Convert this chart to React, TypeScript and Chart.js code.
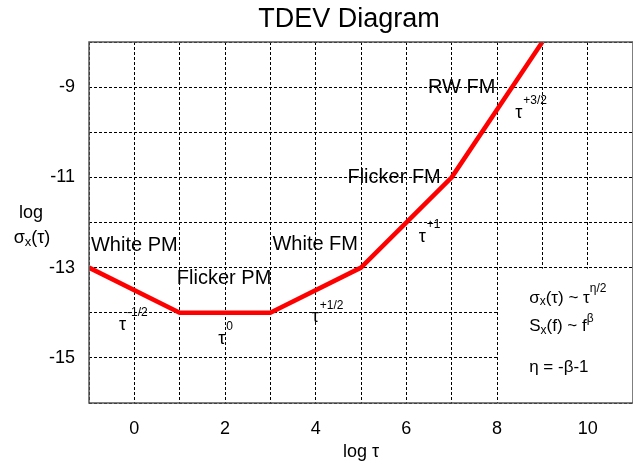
import { useEffect, useRef } from 'react';
import { Chart, registerables } from 'chart.js';

Chart.register(...registerables);

// ---- data ----
const xValues = [-1, 1, 3, 5, 7, 9];
const yValues = [-13, -14, -14, -13, -11, -8];
const xTickLabels = [0, 2, 4, 6, 8, 10];
const yTickLabels = [-9, -11, -13, -15];

const regionLabels = ['White PM', 'Flicker PM', 'White FM', 'Flicker FM', 'RW FM'];
const regionX = [0, 1.98, 3.99, 5.73, 7.22];
const regionY = [-12.5, -13.23, -12.49, -11.0, -9.0];

const slopeExps = ['-1/2', '0', '+1/2', '+1', '+3/2'];
const slopeX = [-0.26, 1.93, 3.99, 6.35, 8.48];
const slopeY = [-14.27, -14.58, -14.1, -12.32, -9.57];

const formulaX = 8.71;
const formulaY = [-13.67, -14.31, -15.2];
// legend box (blank area) extent in data units
const boxX = [8, 11];
const boxY = [-16, -13];

const FONT = '"Liberation Sans", Arial, sans-serif';

type Part = [string, number, number];

function drawRich(ctx: CanvasRenderingContext2D, x: number, y: number, parts: Part[]) {
  let cx = x;
  ctx.textAlign = 'left';
  ctx.textBaseline = 'middle';
  for (const [t, size, dy] of parts) {
    ctx.font = `${size}px ${FONT}`;
    ctx.fillText(t, cx, y + dy);
    cx += ctx.measureText(t).width;
  }
}

const overlayPlugin = {
  id: 'overlay',
  beforeDatasetsDraw(chart: any) {
    const { ctx, scales } = chart;
    const xs = scales.x;
    const ys = scales.y;
    const x0 = xs.getPixelForValue(boxX[0]) + 1;
    const x1 = xs.getPixelForValue(boxX[1]);
    const y0 = ys.getPixelForValue(boxY[1]) + 1;
    const y1 = ys.getPixelForValue(boxY[0]);
    ctx.save();
    ctx.fillStyle = '#fff';
    ctx.fillRect(x0, y0, x1 - x0, y1 - y0);
    ctx.restore();
  },
  afterDraw(chart: any) {
    const { ctx, chartArea, scales } = chart;
    const xs = scales.x;
    const ys = scales.y;
    ctx.save();
    // frame
    ctx.strokeStyle = '#555';
    ctx.lineWidth = 1.5;
    ctx.strokeRect(chartArea.left, chartArea.top, chartArea.right - chartArea.left, chartArea.bottom - chartArea.top);

    ctx.fillStyle = '#000';
    // title
    ctx.font = `27px ${FONT}`;
    ctx.textAlign = 'center';
    ctx.textBaseline = 'middle';
    ctx.fillText('TDEV Diagram', chartArea.left + 260, 20);

    // x title
    ctx.font = `18px ${FONT}`;
    ctx.fillText('log \u03c4', (chartArea.left + chartArea.right) / 2, chartArea.bottom + 49);

    // y title
    ctx.fillText('log', chartArea.left - 58, 213);
    const sw = (() => {
      ctx.font = `18px ${FONT}`;
      const a = ctx.measureText('\u03c3').width + ctx.measureText('(\u03c4)').width;
      ctx.font = `13px ${FONT}`;
      return a + ctx.measureText('x').width;
    })();
    drawRich(ctx, chartArea.left - 57 - sw / 2, 238, [
      ['\u03c3', 18, 0],
      ['x', 13, 4],
      ['(\u03c4)', 18, 0],
    ]);

    // region labels
    ctx.font = `20px ${FONT}`;
    ctx.textAlign = 'center';
    ctx.textBaseline = 'middle';
    regionLabels.forEach((t, i) => {
      ctx.fillText(t, xs.getPixelForValue(regionX[i]), ys.getPixelForValue(regionY[i]));
    });

    // slope labels
    slopeExps.forEach((e, i) => {
      const px = xs.getPixelForValue(slopeX[i]);
      const py = ys.getPixelForValue(slopeY[i]);
      ctx.font = `18px ${FONT}`;
      ctx.textAlign = 'center';
      ctx.textBaseline = 'middle';
      ctx.fillText('\u03c4', px, py);
      ctx.font = `12px ${FONT}`;
      ctx.textAlign = 'left';
      ctx.fillText(e, px + 4.5, py - 12);
    });

    // formula block
    const fx = xs.getPixelForValue(formulaX);
    drawRich(ctx, fx, ys.getPixelForValue(formulaY[0]), [
      ['\u03c3', 17, 0],
      ['x', 12, 4],
      ['(\u03c4) ~ \u03c4', 17, 0],
      ['\u03b7/2', 12, -9],
    ]);
    drawRich(ctx, fx, ys.getPixelForValue(formulaY[1]), [
      ['S', 17, 0],
      ['x', 12, 4],
      ['(f) ~ f', 17, 0],
      ['\u03b2', 12, -8],
    ]);
    drawRich(ctx, fx, ys.getPixelForValue(formulaY[2]), [['\u03b7 = -\u03b2-1', 17, 0]]);
    ctx.restore();
  },
};

export default function App() {
  const ref = useRef<HTMLCanvasElement | null>(null);
  useEffect(() => {
    document.body.style.margin = '0';
    if (!ref.current) return;
    const chart = new Chart(ref.current, {
      type: 'scatter',
      data: {
        datasets: [
          {
            data: xValues.map((x, i) => ({ x, y: yValues[i] })),
            showLine: true,
            borderColor: '#ff0000',
            backgroundColor: '#ff0000',
            borderWidth: 4.5,
            pointRadius: 0,
            tension: 0,
            borderJoinStyle: 'round',
          },
        ],
      },
      options: {
        animation: false,
        responsive: false,
        layout: { padding: { top: 42, left: 0, right: 0, bottom: 0 } },
        plugins: { legend: { display: false }, title: { display: false }, tooltip: { enabled: false } },
        scales: {
          x: {
            type: 'linear',
            min: -1,
            max: 11,
            afterFit: (s: any) => {
              s.height = 60;
              s.paddingLeft = 0;
              s.paddingRight = 0;
            },
            ticks: {
              stepSize: 1,
              autoSkip: false,
              maxRotation: 0,
              padding: 15,
              color: '#000',
              font: { size: 18, family: FONT },
              callback: (v: any) => (xTickLabels.includes(Number(v)) ? String(v) : ''),
            },
            grid: { color: '#000', lineWidth: 1, drawTicks: false },
            border: { display: false, dash: [3, 2] },
          },
          y: {
            type: 'linear',
            min: -16,
            max: -8,
            afterFit: (s: any) => {
              s.width = 89;
              s.paddingTop = 0;
              s.paddingBottom = 0;
            },
            ticks: {
              stepSize: 1,
              autoSkip: false,
              padding: 14,
              color: '#000',
              font: { size: 18, family: FONT },
              callback: (v: any) => (yTickLabels.includes(Number(v)) ? String(v) : ''),
            },
            grid: { color: '#000', lineWidth: 1, drawTicks: false },
            border: { display: false, dash: [3, 2] },
          },
        },
      },
      plugins: [overlayPlugin],
    } as any);
    return () => chart.destroy();
  }, []);
  return <canvas ref={ref} width={633} height={463} style={{ display: 'block' }} />;
}
